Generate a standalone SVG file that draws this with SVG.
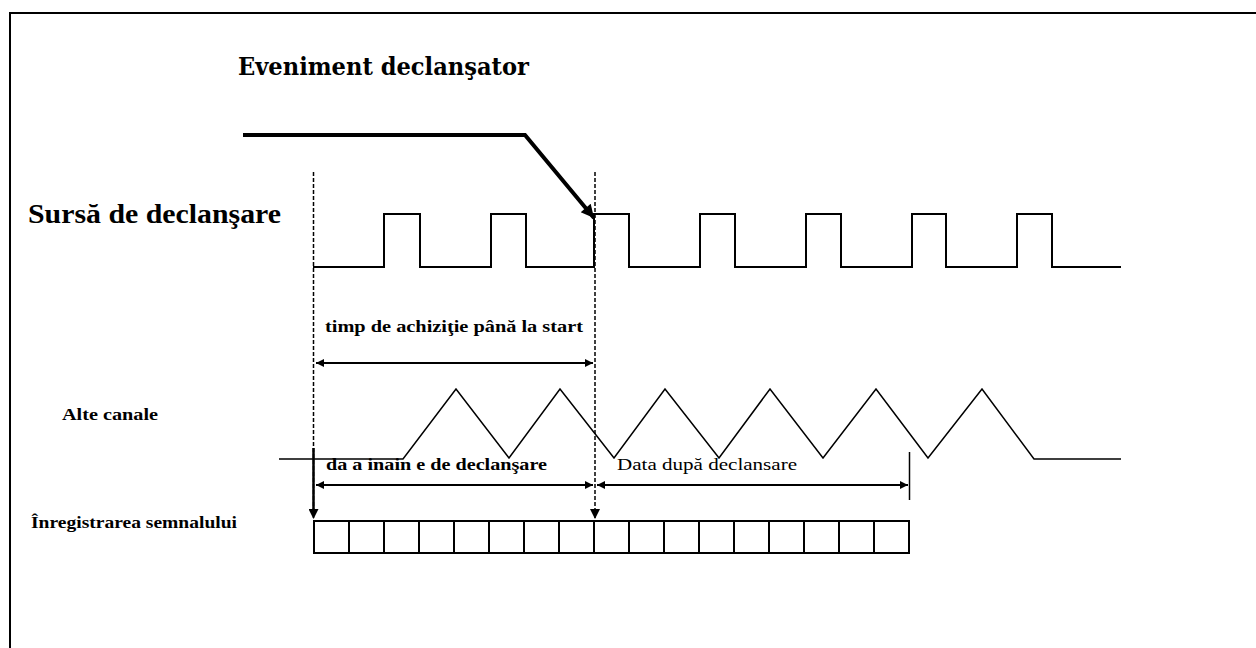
<svg xmlns="http://www.w3.org/2000/svg" width="1256" height="648" viewBox="0 0 1256 648">
<style>
.frame{fill:none;stroke:#000;stroke-width:2}
.sig{fill:none;stroke:#000;stroke-width:2;stroke-linejoin:miter}
.tri{fill:none;stroke:#000;stroke-width:1.5}
.dash{fill:none;stroke:#000;stroke-width:1.5;stroke-dasharray:4 2}
.dim{fill:none;stroke:#000;stroke-width:2}
.cell{fill:none;stroke:#000;stroke-width:2}
.t{font-family:"Liberation Serif","Times New Roman",serif;fill:#000}
.b{font-weight:bold}
</style>
<defs>
<marker id="ah" viewBox="0 0 10 10" refX="10" refY="5" markerWidth="10" markerHeight="8" markerUnits="userSpaceOnUse" orient="auto-start-reverse">
<path d="M0,0 L10,5 L0,10 Z" fill="#000"/>
</marker>
<marker id="down" viewBox="0 0 10 10" refX="10" refY="5" markerWidth="12" markerHeight="10" markerUnits="userSpaceOnUse" orient="auto">
<path d="M0,0 L10,5 L0,10 Z" fill="#000"/>
</marker>
<marker id="big" viewBox="0 0 10 10" refX="10" refY="5" markerWidth="16" markerHeight="13" markerUnits="userSpaceOnUse" orient="auto">
<path d="M0,0 L10,5 L0,10 Z" fill="#000"/>
</marker>
</defs>
<rect width="1256" height="648" fill="#fff"/>
<g id="frame">
<path class="frame" d="M10,648 V13 H1256"/>
</g>
<g id="title">
<text class="t b" x="238" y="75" font-size="25" style="font-family:'DejaVu Serif',serif" textLength="291" lengthAdjust="spacingAndGlyphs">Eveniment declanşator</text>
</g>
<g id="trigger-source">
<text class="t b" x="28" y="223" font-size="28" textLength="253" lengthAdjust="spacingAndGlyphs">Sursă de declanşare</text>
<path class="sig" d="M313,267 H384 V214 H420 V267 H491 V214 H526 V267 H594 V214 H629 V267 H700 V214 H735 V267 H806 V214 H841 V267 H912 V214 H946 V267 H1017 V214 H1052 V267 H1121"/>
</g>
<g id="other-channels">
<text class="t b" x="62" y="420" font-size="17" textLength="96" lengthAdjust="spacingAndGlyphs">Alte canale</text>
<path class="tri" d="M279,459 H403 L456,389 L509,458 L560,389 L614,458 L665,389 L719,458 L770,389 L823,458 L876,389 L928,458 L982,389 L1034,459 H1121"/>
</g>
<g id="signal-record">
<text class="t b" x="31" y="528" font-size="16" textLength="206" lengthAdjust="spacingAndGlyphs">Înregistrarea semnalului</text>
<rect class="cell" x="314" y="521" width="595" height="32"/>
<path class="cell" d="M349,521V553M384,521V553M419,521V553M454,521V553M489,521V553M524,521V553M559,521V553M594,521V553M629,521V553M664,521V553M699,521V553M734,521V553M769,521V553M804,521V553M839,521V553M874,521V553"/>
</g>
<g id="labels">
<text class="t b" x="325" y="332" font-size="16" textLength="258" lengthAdjust="spacingAndGlyphs">timp de achiziţie până la start</text>
<text class="t" x="326" y="470" font-size="17" font-weight="600" textLength="221" lengthAdjust="spacingAndGlyphs">da a inain e de declanşare</text>
<text class="t" x="617" y="470" font-size="17" textLength="180" lengthAdjust="spacingAndGlyphs">Data după declansare</text>
</g>
<g id="connectors">
<path d="M243,135 H525 L594,218" fill="none" stroke="#000" stroke-width="4" stroke-linejoin="miter" marker-end="url(#big)"/>
<path class="dash" d="M313.5,172 V519" marker-end="url(#down)"/>
<path class="dash" d="M595,172 V519" marker-end="url(#down)"/>
<path d="M313.5,448 V510" stroke="#000" stroke-width="2.5"/>
<path class="dim" d="M316,363 H593" marker-start="url(#ah)" marker-end="url(#ah)"/>
<path class="dim" d="M316,485 H593" marker-start="url(#ah)" marker-end="url(#ah)"/>
<path class="dim" d="M597,485 H908" marker-start="url(#ah)" marker-end="url(#ah)"/>
<path d="M909.5,452 V500" stroke="#000" stroke-width="1.5"/>
</g>
</svg>
